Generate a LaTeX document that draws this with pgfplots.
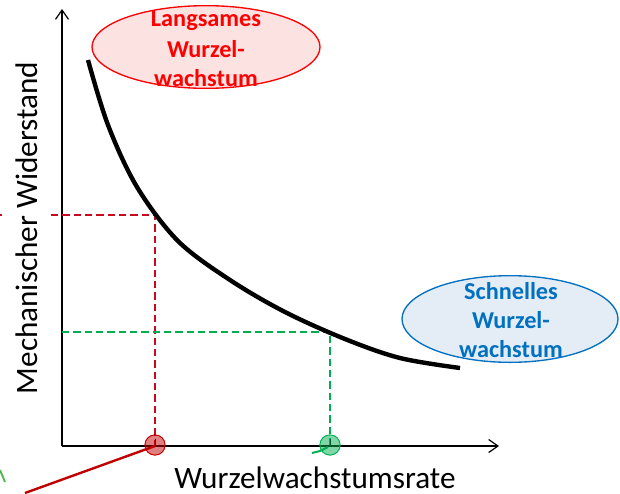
\documentclass[border=0pt]{standalone}
\usepackage{pgfplots}
\pgfplotsset{compat=1.18}
\usepackage{fontspec}
\setmainfont{Carlito}
\usetikzlibrary{arrows.meta}
\definecolor{drd}{RGB}{200,10,30}
\definecolor{lnrd}{RGB}{192,0,0}
\definecolor{grn}{RGB}{0,176,80}
\definecolor{blu}{RGB}{0,112,192}
\definecolor{lblu}{RGB}{228,236,246}
\definecolor{lred}{RGB}{253,226,226}
\begin{document}
\begin{tikzpicture}[x=1pt,y=1pt]
\begin{axis}[scale only axis,width=465pt,height=369.75pt,xmin=0,xmax=620,ymin=0,ymax=493,y dir=reverse,hide axis,clip=true]
\addplot[draw=none,forget plot] coordinates {(0,0)(620,493)};
\draw[red,fill=lred,line width=1pt] (axis cs:206,47) ellipse [x radius=85.5pt,y radius=31pt];
\draw[blu,fill=lblu,line width=1pt] (axis cs:510,319) ellipse [x radius=81pt,y radius=32.5pt];
% axes
\addplot[black,line width=0.9pt,-{Straight Barb[length=7pt,width=13pt,angle'=70]}] coordinates {(62,446)(62,9)};
\addplot[black,line width=0.9pt,-{Straight Barb[length=7pt,width=13pt,angle'=70]}] coordinates {(62,446)(499,446)};
% guide lines
\addplot[drd,line width=0.9pt] coordinates {(0,215)(1.5,215)};
\addplot[drd,line width=0.9pt,dash pattern=on 5.5pt off 3pt] coordinates {(51,215)(155,215)(155,445)};
\addplot[grn,line width=0.9pt,dash pattern=on 5.5pt off 3pt] coordinates {(62,332)(330,332)(330,445)};
% curve
\addplot[black,line width=3.3pt,smooth,tension=0.55] coordinates {(88,60)(108,125)(137,187)(178,241)(230,280)(285,312)(345,339)(400,358)(460,368)};
% circles and lines
\addplot[only marks,mark=*,mark size=7.6pt,mark options={draw=lnrd,line width=0.75pt,fill=lnrd,fill opacity=0.5}] coordinates {(155,445)};
\addplot[only marks,mark=*,mark size=7.6pt,mark options={draw=grn,line width=0.75pt,fill=grn,fill opacity=0.5}] coordinates {(330,445)};
\addplot[lnrd,line width=1.8pt] coordinates {(25,493)(155,446)};
\addplot[grn,line width=1.5pt] coordinates {(312,453)(320,451)(328,447)};
\addplot[green!60!black!70,line width=1.4pt] coordinates {(0,470)(5,482)};
\addplot[black,line width=0.5pt] coordinates {(155,439)(155,446)};
\addplot[black,line width=0.5pt] coordinates {(330,439)(330,446)};
% texts
\node[red,inner sep=0pt,font=\fontsize{18.2}{18}\selectfont\bfseries] at (axis cs:206,20.5) {Langsames};
\node[red,inner sep=0pt,font=\fontsize{18.2}{18}\selectfont\bfseries] at (axis cs:206,49) {Wurzel-};
\node[red,inner sep=0pt,font=\fontsize{18.2}{18}\selectfont\bfseries] at (axis cs:206,78) {wachstum};
\node[blu,inner sep=0pt,font=\fontsize{18.2}{18}\selectfont\bfseries] at (axis cs:511,291.5) {Schnelles};
\node[blu,inner sep=0pt,font=\fontsize{18.2}{18}\selectfont\bfseries] at (axis cs:511,320.5) {Wurzel-};
\node[blu,inner sep=0pt,font=\fontsize{18.2}{18}\selectfont\bfseries] at (axis cs:511,349.5) {wachstum};
\node[inner sep=0pt,font=\fontsize{23.4}{23}\selectfont] at (axis cs:315,477.5) {Wurzelwachstumsrate};
\node[inner sep=0pt,font=\fontsize{23.4}{23}\selectfont,rotate=90] at (axis cs:27,228) {Mechanischer Widerstand};
\end{axis}
\end{tikzpicture}
\end{document}
